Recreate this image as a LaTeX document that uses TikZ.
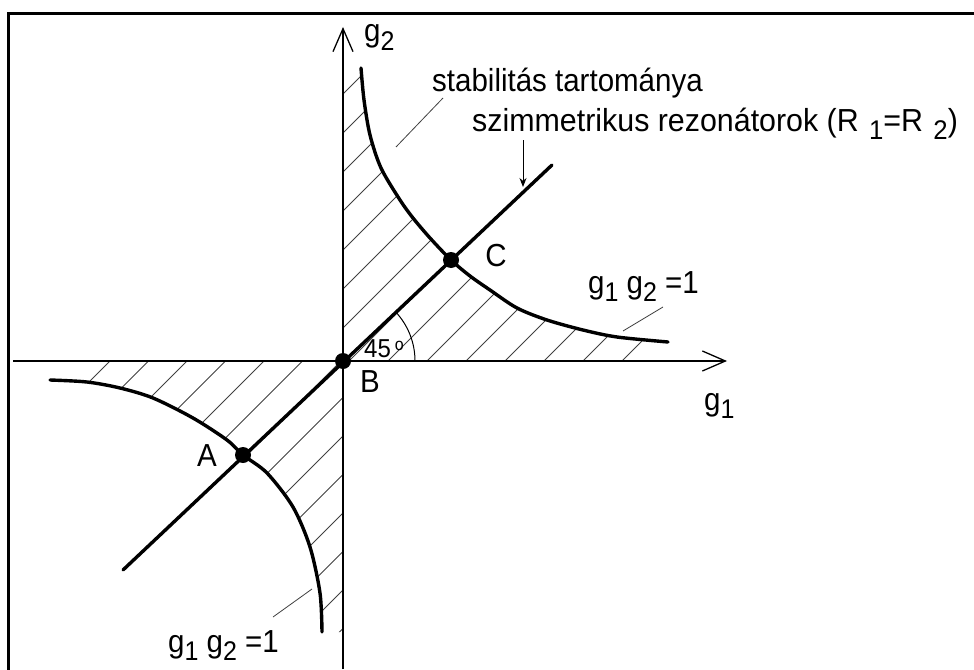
\documentclass[tikz,border=0pt]{standalone}
\usepackage{fontspec}
\setmainfont{Liberation Sans}
\usetikzlibrary{arrows.meta}
\newcommand{\sbs}[1]{\raisebox{-8pt}{\fontsize{25}{25}\selectfont #1}}
\begin{document}
\begin{tikzpicture}[x=1pt,y=-1pt,
  lbl/.style={font=\fontsize{29.5}{32}\selectfont, inner sep=0pt, yscale=1.08},
  axisline/.style={line width=1.3pt, -{Straight Barb[length=23pt,width=20pt,line width=1.3pt]}},
  curveline/.style={line width=3.4pt, line join=round, line cap=round},
  hatchline/.style={line width=0.8pt, black!75},
  leader/.style={line width=0.8pt, black!75},
  dot/.style={circle, fill=black, minimum size=16pt, inner sep=0pt}]
\useasboundingbox (0,0) rectangle (974,669);
% frame
\draw[line width=3pt] (8,680) -- (8,14) -- (980,14);
% hatching upper
\begin{scope}
\clip (343,361) -- (343,68) -- plot[smooth] coordinates {(361,68) (364,100) (370,135) (381,168) (400,200) (413,218) (430,238) (451,260) (470,276) (490,290) (517,308) (547,320) (583,330) (617,337) (668,342)} -- (668,361) -- cycle;
\foreach \c in {437,476,...,990} \draw[hatchline] ({\c-400},400) -- (\c,0);
\end{scope}
% hatching lower
\begin{scope}
\clip (343,361) -- (50,361) -- plot[smooth] coordinates {(50,380) (87,382) (120,388) (153,398) (193,418) (227,440) (243,455) (267,473) (293,507) (310,547) (320,593) (322,632)} -- (343,632) -- cycle;
\foreach \c in {471,509.5,...,980} \draw[hatchline] ({\c-700},700) -- ({\c-300},300);
\end{scope}
% axes
\coordinate (xs) at (13,361);
\coordinate (xe) at (727,361);
\coordinate (ys) at (343,669);
\coordinate (ye) at (343,27);
\draw[axisline] (xs) -- (xe);
\draw[axisline] (ys) -- (ye);
% curves
\draw[curveline] plot[smooth] coordinates {(361,68) (364,100) (370,135) (381,168) (400,200) (413,218) (430,238) (451,260) (470,276) (490,290) (517,308) (547,320) (583,330) (617,337) (668,342)};
\draw[curveline] plot[smooth] coordinates {(50,380) (87,382) (120,388) (153,398) (193,418) (227,440) (243,455) (267,473) (293,507) (310,547) (320,593) (322,632)};
% diagonal
\coordinate (d1) at (123,570);
\coordinate (d2) at (552,165);
\draw[line width=3.4pt, line cap=round] (d1) -- (d2);
% points
\node[dot] (Bp) at (343,361) {};
\node[dot] (Cp) at (451,260) {};
\node[dot] (Ap) at (243,455) {};
% angle
\draw[line width=1pt] (415,361) arc[start angle=0, end angle=-43, radius=72];
% leaders
\coordinate (st1) at (443,98);
\coordinate (st2) at (396,147);
\draw[leader] (st1) -- (st2);
\coordinate (sz1) at (523,140);
\coordinate (sz2) at (523,187);
\draw[line width=1pt, -{Stealth[length=9pt,width=7pt]}] (sz1) -- (sz2);
\coordinate (ua) at (663,307);
\coordinate (ub) at (623,331);
\draw[leader] (ua) -- (ub);
\coordinate (la) at (273,617);
\coordinate (lb) at (312,589);
\draw[leader] (la) -- (lb);
% labels
\node[lbl, anchor=base west] (g2) at (364,42) {g\sbs{2}};
\node[lbl, anchor=base west] (stab) at (432,92) {stabilitás tartománya};
\node[lbl, anchor=base west, xscale=1.03] (szim) at (472,131) {szimmetrikus rezonátorok (R\hspace{10pt}\sbs{1}=R\hspace{10pt}\sbs{2})};
\node[lbl] (C) at (496,256) {C};
\node[lbl, anchor=base west] (gu) at (588,293) {g\sbs{1} g\sbs{2} =1};
\node[lbl] (B) at (370,382) {B};
\node[lbl, anchor=base west] (g1) at (704,410) {g\sbs{1}};
\node[lbl] (A) at (207,456) {A};
\node[lbl, anchor=base west] (gl) at (168,652) {g\sbs{1} g\sbs{2} =1};
\node[lbl, anchor=base west, font=\fontsize{24}{26}\selectfont] (deg) at (364,357) {45\,\raisebox{6pt}{\fontsize{16}{16}\selectfont o}};
\end{tikzpicture}
\end{document}
